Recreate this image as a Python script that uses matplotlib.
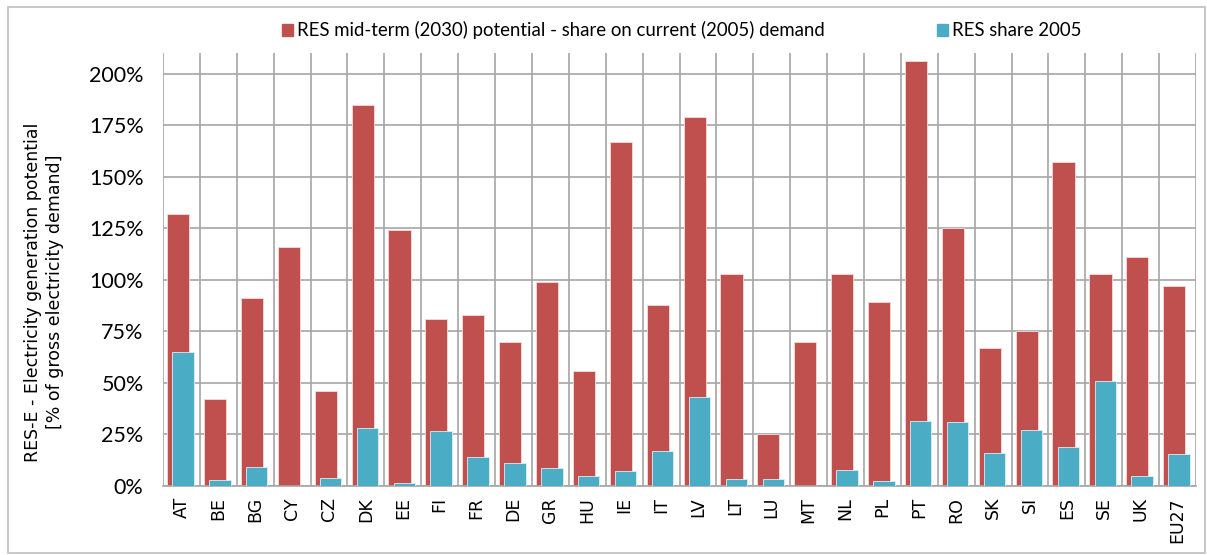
import matplotlib.pyplot as plt
import numpy as np
from matplotlib.patches import Rectangle
from matplotlib.ticker import FuncFormatter

# Країни (категорії)
countries = ["AT", "BE", "BG", "CY", "CZ", "DK", "EE", "FI", "FR", "DE", "GR", "HU",
             "IE", "IT", "LV", "LT", "LU", "MT", "NL", "PL", "PT", "RO", "SK", "SI",
             "ES", "SE", "UK", "EU27"]

# RES mid-term (2030) potential - share on current (2005) demand, %
potential_2030 = [132, 42, 91, 116, 46, 185, 124, 81, 83, 70, 99, 56,
                  167, 88, 179, 103, 25, 70, 103, 89, 206, 125, 67, 75,
                  157, 103, 111, 97]

# RES share 2005, %
share_2005 = [65, 3, 9, 0, 4, 28, 1.5, 26.5, 14, 11, 8.5, 5,
              7.5, 17, 43, 3.5, 3.5, 0, 8, 2.5, 31.5, 31, 16, 27,
              19, 51, 5, 15.5]

label_potential = "RES mid-term (2030) potential - share on current (2005) demand"
label_share = "RES share 2005"

red = "#C0504D"
blue = "#4BACC6"

fig = plt.figure(figsize=(12.07, 5.55), dpi=100)
ax = fig.add_axes([163 / 1207, 1 - 486 / 555, (1196 - 163) / 1207, (486 - 53) / 555])

x = np.arange(len(countries))
ax.bar(x - 0.09, np.array(potential_2030) / 100, width=0.6, color=red,
       edgecolor="#F2DCDB", linewidth=0.6, zorder=2)
ax.bar(x + 0.04, np.array(share_2005) / 100, width=0.58, color=blue,
       edgecolor="#DAEEF3", linewidth=0.6, zorder=3)

ax.set_xlim(-0.5, len(countries) - 0.5)
ax.set_ylim(0, 2.1)
ax.set_yticks(np.arange(0, 2.01, 0.25))
ax.yaxis.set_major_formatter(FuncFormatter(lambda v, p: f"{v * 100:.0f}%"))
ax.set_xticks(x)
ax.set_xticklabels(countries, rotation=90, fontsize=12.5, family="DejaVu Sans")
for lab in ax.get_yticklabels():
    lab.set_family("Lato")
    lab.set_fontsize(15.5)

# Сітка: горизонтальні лінії на рівнях та вертикальні між категоріями
ax.set_xticks(np.arange(-0.5, len(countries), 1), minor=True)
ax.grid(True, axis="y", which="major", color="#A6A6A6", linewidth=1.2, zorder=0)
ax.grid(True, axis="x", which="minor", color="#A6A6A6", linewidth=1.2, zorder=0)
ax.tick_params(axis="x", which="both", length=0, pad=8)
ax.tick_params(axis="y", length=0, pad=14)
for s in ["top", "right", "left"]:
    ax.spines[s].set_visible(False)
ax.spines["bottom"].set_color("#A6A6A6")
ax.spines["bottom"].set_linewidth(1.2)

# Підпис осі Y
fig.text(44 / 1207, 1 - 292 / 555,
         "RES-E - Electricity generation potential\n[% of gross electricity demand]",
         rotation=90, ha="center", va="center", fontsize=12.5, family="DejaVu Sans",
         linespacing=1.25)

# Легенда
fig.patches.append(Rectangle((282 / 1207, 1 - 36 / 555), 11 / 1207, 12 / 555,
                             transform=fig.transFigure, color=red))
fig.text(297 / 1207, 1 - 30 / 555, label_potential, ha="left", va="center",
         fontsize=13.4, family="Lato")
fig.patches.append(Rectangle((937 / 1207, 1 - 36 / 555), 11 / 1207, 12 / 555,
                             transform=fig.transFigure, color=blue))
fig.text(952 / 1207, 1 - 30 / 555, label_share, ha="left", va="center",
         fontsize=13.4, family="Lato")

# Рамка навколо діаграми
fig.patches.append(Rectangle((8 / 1207, 2 / 555), 1197 / 1207, 546 / 555,
                             transform=fig.transFigure, fill=False,
                             edgecolor="#BFBFBF", linewidth=1.2))

fig.savefig("out.png", dpi=100)
